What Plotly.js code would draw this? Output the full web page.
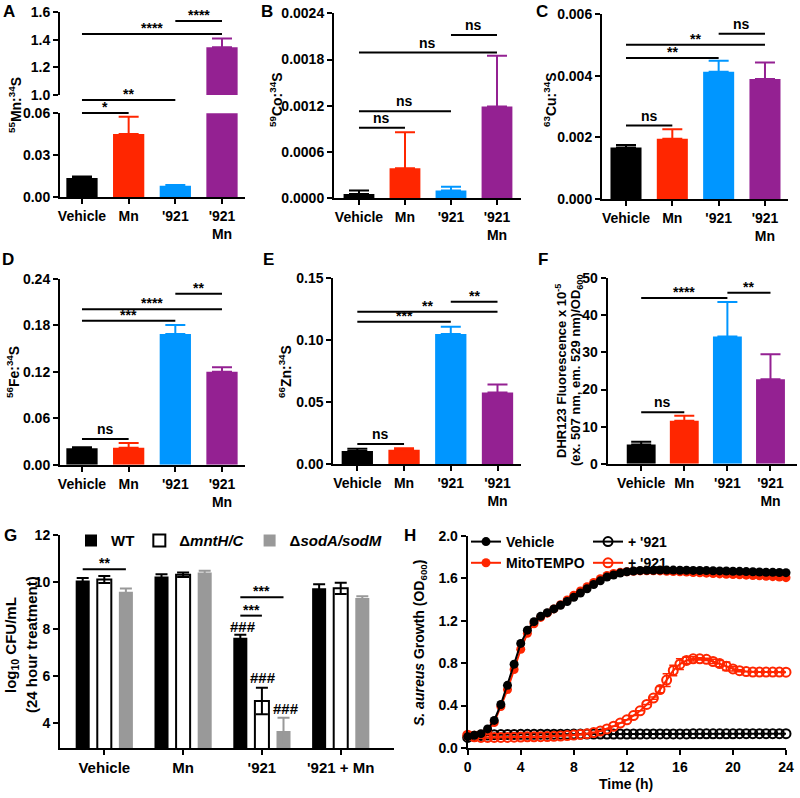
<!DOCTYPE html>
<html><head><meta charset="utf-8">
<script src="https://cdn.plot.ly/plotly-3.0.1.min.js"></script>
<style>html,body{margin:0;padding:0;background:#fff}#chart{width:800px;height:798px}</style>
</head><body><div id="chart"></div>
<script>
// ---------------- DATA ----------------
const categories = ["Vehicle", "Mn", "'921", "'921<br>Mn"];
const mnMean = [0.0137, 0.0452, 0.0083, 1.346];
const mnErr  = [0.0011, 0.0124, 0.0005, 0.064];
const coMean = [0.000056, 0.00039, 0.0001, 0.00119];
const coErr  = [0.000045, 0.000466, 0.00005, 0.00066];
const cuMean = [0.00167, 0.00195, 0.00413, 0.00389];
const cuErr  = [0.00008, 0.00031, 0.00035, 0.00054];
const feMean = [0.0211, 0.022, 0.169, 0.120];
const feErr  = [0.0013, 0.006, 0.0115, 0.006];
const znMean = [0.0108, 0.0118, 0.105, 0.058];
const znErr  = [0.0018, 0.0011, 0.006, 0.0063];
const dhrMean = [5.2, 11.6, 34.3, 22.75];
const dhrErr  = [0.7, 1.35, 9.3, 6.75];

// significance brackets: [from index, to index, height, label]
const sigAupper = [[2, 3, 1.537, '****'], [0, 3, 1.443, '****']];
const sigAlower = [[0, 2, 0.0695, '**'], [0, 1, 0.0603, '*']];
const sigB = [[2, 3, 0.00212, 'ns'], [0, 3, 0.00189, 'ns'], [0, 2, 0.00113, 'ns'], [0, 1, 0.000916, 'ns']];
const sigC = [[2, 3, 0.00536, 'ns'], [0, 3, 0.0050, '**'], [0, 2, 0.00457, '**'], [0, 1, 0.00238, 'ns']];
const sigD = [[2, 3, 0.221, '**'], [0, 3, 0.201, '****'], [0, 2, 0.186, '***'], [0, 1, 0.0332, 'ns']];
const sigE = [[2, 3, 0.131, '**'], [0, 3, 0.123, '**'], [0, 2, 0.115, '***'], [0, 1, 0.0164, 'ns']];
const sigF = [[2, 3, 46.1, '**'], [0, 2, 44.7, '****'], [0, 1, 13.85, 'ns']];

// panel G
const gCategories = ["Vehicle", "Mn", "'921", "'921 + Mn"];
const gStrains = ["WT", "Δ<i>mntH/C</i>", "Δ<i>sodA/sodM</i>"];
const gWT = [10.06, 10.23, 7.63, 9.74];
const gWTerr = [0.11, 0.10, 0.13, 0.17];
const gMnt = [10.11, 10.31, 4.94, 9.73];
const gMntErr = [0.15, 0.10, 0.56, 0.24];
const gSod = [9.59, 10.41, 3.66, 9.32];
const gSodErr = [0.13, 0.07, 0.57, 0.08];
const sigG = [[-0.274, 0.274, 10.54, '**'], [1.726, 2.0, 8.57, '***'], [1.726, 2.274, 9.35, '***']];
const hashG = [[1.756, 8.1, '###'], [2.016, 5.94, '###'], [2.31, 4.62, '###']];

// panel H
const hours = [0,0.5,1,1.5,2,2.5,3,3.5,4,4.5,5,5.5,6,6.5,7,7.5,8,8.5,9,9.5,10,10.5,11,11.5,12,12.5,13,13.5,14,14.5,15,15.5,16,16.5,17,17.5,18,18.5,19,19.5,20,20.5,21,21.5,22,22.5,23,23.5,24];
const vehicle = [0.107,0.12,0.135,0.18,0.26,0.41,0.59,0.79,0.985,1.11,1.19,1.24,1.275,1.31,1.345,1.38,1.42,1.46,1.5,1.54,1.575,1.61,1.63,1.648,1.66,1.667,1.672,1.674,1.675,1.676,1.676,1.676,1.675,1.674,1.673,1.672,1.671,1.67,1.668,1.667,1.665,1.664,1.662,1.66,1.658,1.656,1.655,1.653,1.652];
const mitoTempo = [0.12,0.12,0.13,0.16,0.24,0.39,0.55,0.74,0.93,1.08,1.17,1.23,1.27,1.31,1.35,1.395,1.44,1.48,1.52,1.56,1.595,1.625,1.645,1.655,1.66,1.665,1.668,1.67,1.67,1.668,1.665,1.663,1.66,1.657,1.653,1.65,1.647,1.644,1.64,1.637,1.634,1.631,1.628,1.625,1.622,1.618,1.614,1.61,1.605];
const vehicle921 = [0.1,0.11,0.118,0.122,0.125,0.127,0.128,0.128,0.129,0.129,0.129,0.13,0.13,0.13,0.13,0.13,0.131,0.131,0.131,0.131,0.131,0.132,0.132,0.132,0.132,0.132,0.132,0.133,0.133,0.133,0.133,0.133,0.133,0.133,0.134,0.134,0.134,0.134,0.134,0.134,0.134,0.135,0.135,0.135,0.135,0.135,0.135,0.135,0.135];
const mito921 = [0.12,0.105,0.1,0.1,0.1,0.1,0.1,0.102,0.103,0.105,0.106,0.107,0.108,0.11,0.113,0.117,0.122,0.128,0.135,0.145,0.16,0.18,0.205,0.235,0.265,0.305,0.35,0.41,0.47,0.55,0.64,0.73,0.79,0.825,0.84,0.84,0.835,0.815,0.795,0.77,0.745,0.728,0.72,0.716,0.715,0.715,0.715,0.715,0.714];
const mito921Err = [0,0,0,0,0,0,0,0,0,0,0,0,0,0,0,0,0,0,0,0,0,0,0,0,0,0,0,0,0.01,0.03,0.06,0.05,0.05,0.03,0.02,0.01,0.01,0.02,0.03,0.04,0.02,0.01,0,0,0,0,0,0,0];

// ---------------- STYLE / LAYOUT ----------------
const W = 800, H = 798;
const FONT = 'Liberation Sans, Arial, Helvetica, sans-serif';
const barColors = ['#000000', '#ff2600', '#0096ff', '#942192'];
const xd = (l, r) => [l / W, r / W];
const yd = (t, b) => [1 - b / H, 1 - t / H];
const fnt = (s) => ({family: FONT, size: s, color: '#000', weight: 700});

function ax(extra, fs) {
  return Object.assign({showline: true, linewidth: 2, linecolor: '#000', ticks: 'outside', ticklen: 5,
    tickwidth: 2, tickcolor: '#000', showgrid: false, zeroline: false, fixedrange: true,
    tickfont: fnt(fs || 14)}, extra);
}

const layout = {
  width: W, height: H, margin: {l: 0, r: 0, t: 0, b: 0},
  paper_bgcolor: '#fff', plot_bgcolor: 'rgba(0,0,0,0)',
  font: fnt(14), barmode: 'overlay', hovermode: false, showlegend: true,
  xaxis:  ax({domain: xd(60, 245), range: [-0.471, 3.493], anchor: 'y', type: 'category'}),
  yaxis:  ax({domain: yd(113.3, 197.3), range: [0, 0.06], anchor: 'x', tickvals: [0, 0.03, 0.06], tickformat: '.2f'}),
  yaxis2: ax({domain: yd(12.3, 95), range: [1, 1.6], anchor: 'x', tickvals: [1.0, 1.2, 1.4, 1.6], tickformat: '.1f'}),
  xaxis2: ax({domain: xd(334, 521), range: [-0.543, 3.522], anchor: 'y3', type: 'category'}),
  yaxis3: ax({domain: yd(13.3, 198.3), range: [0, 0.0024], anchor: 'x2', tick0: 0, dtick: 0.0006, tickformat: '.4f'}),
  xaxis3: ax({domain: xd(602, 788), range: [-0.518, 3.497], anchor: 'y4', type: 'category'}),
  yaxis4: ax({domain: yd(14, 199), range: [0, 0.006], anchor: 'x3', tick0: 0, dtick: 0.002, tickformat: '.3f'}),
  xaxis4: ax({domain: xd(60, 245), range: [-0.471, 3.493], anchor: 'y5', type: 'category'}),
  yaxis5: ax({domain: yd(279, 464.7), range: [0, 0.24], anchor: 'x4', tick0: 0, dtick: 0.06, tickformat: '.2f'}),
  xaxis5: ax({domain: xd(333.3, 521), range: [-0.514, 3.503], anchor: 'y6', type: 'category'}),
  yaxis6: ax({domain: yd(278.3, 464.3), range: [0, 0.15], anchor: 'x5', tick0: 0, dtick: 0.05, tickformat: '.2f'}),
  xaxis6: ax({domain: xd(607.7, 797), range: [-0.777, 3.615], anchor: 'y7', type: 'category'}),
  yaxis7: ax({domain: yd(278.3, 463.7), range: [0, 50], anchor: 'x6', tick0: 0, dtick: 10}),
  xaxis7: ax({domain: xd(60, 394), range: [-0.562, 3.676], anchor: 'y8', type: 'category'}, 15),
  yaxis8: ax({domain: yd(535, 748), range: [2.94, 12], anchor: 'x7', tickvals: [4, 6, 8, 10, 12]}, 14),
  xaxis8: ax({domain: xd(467.7, 786), range: [0, 24], anchor: 'y9', tick0: 0, dtick: 4}, 14),
  yaxis9: ax({domain: yd(535.7, 748), range: [0, 2], anchor: 'x8', tick0: 0, dtick: 0.4, tickformat: '.1f'}, 14),
  legend:  {x: 71 / W, y: 1 - 540.7 / H, xanchor: 'left', yanchor: 'middle', orientation: 'h',
            font: fnt(15), bgcolor: 'rgba(0,0,0,0)', itemclick: false, itemdoubleclick: false},
  legend2: {x: 466 / W, y: 1 - 526 / H, xanchor: 'left', yanchor: 'top', orientation: 'v',
            font: fnt(14), bgcolor: 'rgba(0,0,0,0)', itemclick: false, itemdoubleclick: false, tracegroupgap: 0},
  legend3: {x: 588 / W, y: 1 - 526 / H, xanchor: 'left', yanchor: 'top', orientation: 'v',
            font: fnt(14), bgcolor: 'rgba(0,0,0,0)', itemclick: false, itemdoubleclick: false, tracegroupgap: 0},
  shapes: [], annotations: []
};

// ---------------- TRACES ----------------
const traces = [];
function barSet(means, errs, xa, ya) {
  categories.forEach((c, i) => {
    traces.push({type: 'bar', x: [c], y: [means[i]], xaxis: xa, yaxis: ya, width: 0.67,
      marker: {color: barColors[i], line: {width: 0}}, showlegend: false, hoverinfo: 'skip',
      error_y: {type: 'data', array: [errs[i]], arrayminus: [0], symmetric: false,
                color: barColors[i], thickness: 2, width: 10}});
  });
}
barSet(mnMean, mnErr, 'x', 'y');
barSet(mnMean, mnErr, 'x', 'y2');
barSet(coMean, coErr, 'x2', 'y3');
barSet(cuMean, cuErr, 'x3', 'y4');
barSet(feMean, feErr, 'x4', 'y5');
barSet(znMean, znErr, 'x5', 'y6');
barSet(dhrMean, dhrErr, 'x6', 'y7');

// panel G grouped bars
const gW = 0.178, gStep = 0.274;
[[gWT, gWTerr, '#000000', '#000000', '#000000'],
 [gMnt, gMntErr, '#ffffff', '#000000', '#000000'],
 [gSod, gSodErr, '#999999', '#999999', '#999999']].forEach(([vals, errs, fill, edge, ecol], k) => {
  traces.push({type: 'bar', name: gStrains[k], x: gCategories, y: vals, xaxis: 'x7', yaxis: 'y8',
    width: gW, offset: (k - 1) * gStep - gW / 2, legend: 'legend',
    marker: {color: fill, line: {color: edge, width: k === 1 ? 2 : 0}},
    error_y: {type: 'data', array: errs, symmetric: true, color: ecol, thickness: 2, width: 6}});
});

// panel H growth curves
const red = '#ff2600';
traces.push({type: 'scatter', mode: 'lines+markers', name: "+ '921", x: hours, y: vehicle921, xaxis: 'x8', yaxis: 'y9',
  legend: 'legend3', legendrank: 1, cliponaxis: false,
  line: {color: '#000', width: 2}, marker: {symbol: 'circle-open', size: 9, color: '#000', line: {width: 2, color: '#000'}}});
traces.push({type: 'scatter', mode: 'lines+markers', name: "+ '921", x: hours, y: mito921, xaxis: 'x8', yaxis: 'y9',
  legend: 'legend3', legendrank: 2, cliponaxis: false,
  error_y: {type: 'data', array: mito921Err, color: red, thickness: 1.5, width: 4},
  line: {color: red, width: 2}, marker: {symbol: 'circle-open', size: 9, color: red, line: {width: 2, color: red}}});
traces.push({type: 'scatter', mode: 'lines+markers', name: 'MitoTEMPO', x: hours, y: mitoTempo, xaxis: 'x8', yaxis: 'y9',
  legend: 'legend2', legendrank: 2, cliponaxis: false,
  line: {color: red, width: 2}, marker: {symbol: 'circle', size: 9, color: red}});
traces.push({type: 'scatter', mode: 'lines+markers', name: 'Vehicle', x: hours, y: vehicle, xaxis: 'x8', yaxis: 'y9',
  legend: 'legend2', legendrank: 1, cliponaxis: false,
  line: {color: '#000', width: 2}, marker: {symbol: 'circle', size: 9, color: '#000'}});

// ---------------- ANNOTATIONS / BRACKETS ----------------
function toPaper(axName, v) {
  const a = layout[axName], d = a.domain, r = a.range;
  return d[0] + (v - r[0]) / (r[1] - r[0]) * (d[1] - d[0]);
}
function addSig(list, xa, yaName) {
  list.forEach(([a, b, v, label]) => {
    const p = toPaper(yaName, v);
    layout.shapes.push({type: 'line', xref: xa, yref: 'paper', x0: a, x1: b, y0: p, y1: p, line: {color: '#000', width: 2}});
    layout.annotations.push({xref: xa, yref: 'paper', x: (a + b) / 2, y: p, xanchor: 'center', yanchor: 'bottom',
      text: label, showarrow: false, font: fnt(14), yshift: label.charAt(0) === '*' ? -4 : 0});
  });
}
addSig(sigAupper, 'x', 'yaxis2');
addSig(sigAlower, 'x', 'yaxis');
addSig(sigB, 'x2', 'yaxis3');
addSig(sigC, 'x3', 'yaxis4');
addSig(sigD, 'x4', 'yaxis5');
addSig(sigE, 'x5', 'yaxis6');
addSig(sigF, 'x6', 'yaxis7');
addSig(sigG, 'x7', 'yaxis8');
hashG.forEach(([x, v, label]) => {
  layout.annotations.push({xref: 'x7', yref: 'paper', x: x, y: toPaper('yaxis8', v), xanchor: 'center', yanchor: 'middle',
    text: label, showarrow: false, font: fnt(15)});
});

function paperText(text, px, py, size, angle) {
  layout.annotations.push({xref: 'paper', yref: 'paper', x: px / W, y: 1 - py / H, xanchor: 'center', yanchor: 'middle',
    text: text, showarrow: false, font: fnt(size), textangle: angle || 0});
}
// panel letters
[['A', 9, 11], ['B', 267, 11], ['C', 542, 11], ['D', 8, 259], ['E', 268, 259], ['F', 543, 259], ['G', 10, 535], ['H', 410, 535]]
  .forEach(([t, x, y]) => paperText(t, x, y, 17));
// axis titles
paperText('<sup>55</sup>Mn:<sup>34</sup>S', 15, 105, 14, -90);
paperText('<sup>59</sup>Co:<sup>34</sup>S', 276, 100, 14, -90);
paperText('<sup>63</sup>Cu:<sup>34</sup>S', 550, 100, 14, -90);
paperText('<sup>56</sup>Fe:<sup>34</sup>S', 13, 372, 14, -90);
paperText('<sup>66</sup>Zn:<sup>34</sup>S', 285, 372, 14, -90);
paperText('DHR123 Fluorescence x 10<sup>-5</sup>', 561, 371, 13, -90);
paperText('(ex. 507 nm, em. 529 nm)/OD<sub>600</sub>', 576, 371, 13, -90);
paperText('log<sub>10</sub> CFU/mL', 11, 645, 15, -90);
paperText('(24 hour treatment)', 31, 645, 15, -90);
paperText('<i>S. aureus</i> Growth (OD<sub>600</sub>)', 420, 643, 14, -90);
paperText('Time (h)', 626, 784, 14, 0);

Plotly.newPlot('chart', traces, layout, {staticPlot: true, displayModeBar: false});
</script></body></html>
